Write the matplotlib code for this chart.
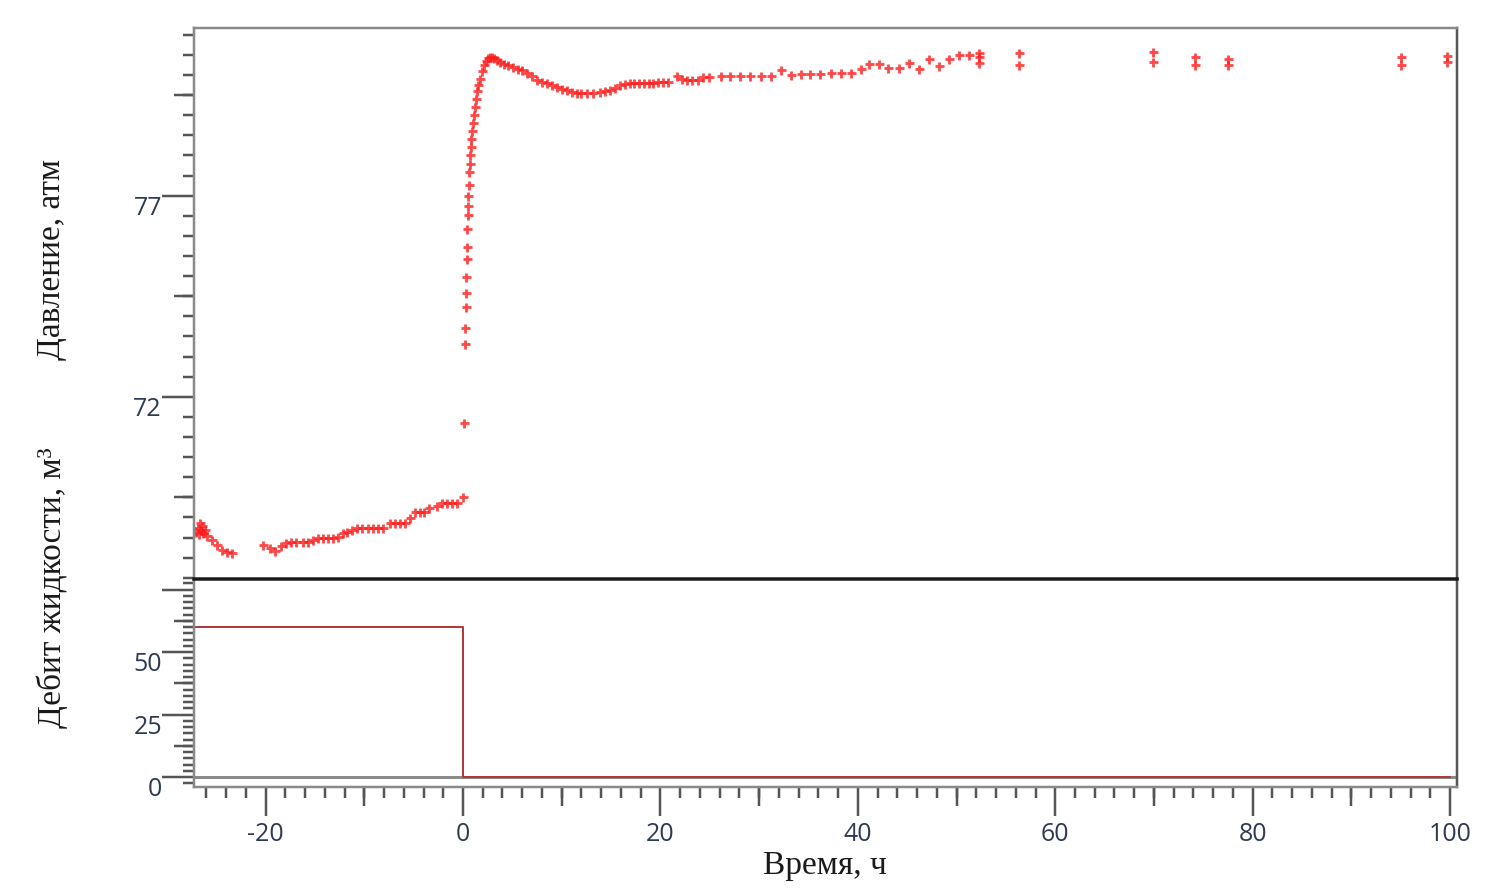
import numpy as np
import matplotlib
matplotlib.use("Agg")
import matplotlib.pyplot as plt

plt.rcParams["axes.unicode_minus"] = False

# pressure, atm (before the shut-in)
t_pre = [-27.0, -26.8, -26.7, -26.6, -26.5, -26.4, -26.3, -26.1, -25.9, -25.4, -24.9, -24.4, -23.9, -23.4,
         -20.3, -19.6, -19.0, -18.4, -17.9, -17.4, -16.9, -16.2, -15.7, -15.2, -14.7, -14.2, -13.7, -13.2,
         -12.7, -12.2, -11.7, -11.2, -10.7, -10.2, -9.6, -9.1, -8.6, -8.1, -7.4, -6.9, -6.4, -5.9, -5.4,
         -4.9, -4.4, -3.9, -3.4, -2.6, -2.1, -1.6, -1.1, -0.6, 0.0]
p_pre = [68.65, 68.75, 68.60, 68.85, 68.70, 68.80, 68.62, 68.68, 68.55, 68.44, 68.31, 68.19, 68.13, 68.11,
         68.31, 68.24, 68.16, 68.30, 68.36, 68.38, 68.38, 68.40, 68.40, 68.44, 68.48, 68.48, 68.48, 68.50,
         68.51, 68.61, 68.63, 68.68, 68.73, 68.73, 68.73, 68.73, 68.73, 68.73, 68.86, 68.86, 68.86, 68.86,
         68.98, 69.13, 69.13, 69.13, 69.23, 69.28, 69.36, 69.36, 69.36, 69.36, 69.51]

# pressure, atm (build-up)
t_post = [0.1, 0.2, 0.25, 0.3, 0.3, 0.35, 0.4, 0.4, 0.45, 0.5, 0.5, 0.55, 0.6, 0.65, 0.7, 0.75, 0.8,
          0.85, 0.9, 1.0, 1.1, 1.2, 1.3, 1.4, 1.5, 1.7, 1.9, 2.1, 2.3, 2.5, 2.7, 2.9, 3.1, 3.4, 3.8,
          4.2, 4.6, 5.1, 5.6, 6.0, 6.5, 7.0, 7.5, 8.0, 8.5, 9.0, 9.5, 10.0, 10.5, 11.0, 11.5, 12.0,
          12.6, 13.2, 13.9, 14.4, 14.9, 15.4, 15.9, 16.4, 16.9, 17.3, 17.8, 18.3, 18.8, 19.3, 19.8,
          20.3, 20.8, 21.7, 22.2, 22.7, 23.2, 23.8, 24.3, 24.9, 26.1, 27.1, 28.1, 29.1, 30.2, 31.2,
          32.2, 33.2, 34.2, 35.2, 36.2, 37.3, 38.3, 39.3, 40.3, 41.1, 42.1, 43.1, 44.2, 45.2, 46.2,
          47.2, 48.2, 49.2, 50.3, 51.3, 52.3, 52.3, 52.3, 56.3, 56.3, 69.9, 69.9, 74.2, 74.2,
          77.5, 77.5, 95.0, 95.0, 99.7, 99.7]
p_post = [71.35, 73.31, 73.71, 74.23, 74.58, 74.98, 75.43, 75.72, 76.17, 76.52, 76.74, 77.00, 77.27,
          77.59, 77.80, 78.00, 78.20, 78.40, 78.60, 78.80, 79.00, 79.20, 79.40, 79.60, 79.75, 79.90,
          80.10, 80.25, 80.35, 80.42, 80.45, 80.45, 80.42, 80.38, 80.32, 80.28, 80.24, 80.20, 80.15,
          80.12, 80.06, 79.97, 79.88, 79.83, 79.80, 79.75, 79.70, 79.66, 79.62, 79.58, 79.56, 79.55,
          79.56, 79.56, 79.58, 79.60, 79.63, 79.68, 79.75, 79.78, 79.80, 79.80, 79.80, 79.80, 79.81,
          79.81, 79.82, 79.82, 79.82, 79.98, 79.90, 79.88, 79.88, 79.88, 79.95, 79.95, 79.98, 79.98,
          79.98, 79.98, 79.98, 79.98, 80.13, 80.00, 80.03, 80.03, 80.03, 80.05, 80.05, 80.05, 80.15,
          80.27, 80.27, 80.18, 80.18, 80.30, 80.15, 80.40, 80.23, 80.40, 80.50, 80.50, 80.55, 80.45,
          80.30, 80.55, 80.25, 80.57, 80.32, 80.45, 80.25, 80.40, 80.25, 80.45, 80.25, 80.47, 80.32]

# liquid rate, m3
rate_t = [-27.3, 0.0, 100.0]
rate_q = [60.0, 0.0, 0.0]

tick_col = "#555555"
label_col = "#2e3a55"
serif = ["Liberation Serif", "DejaVu Serif"]
sans = ["Open Sans", "DejaVu Sans"]
px = 0.72  # points per pixel at dpi 100

fig = plt.figure(figsize=(14.87, 8.92), dpi=100)
left, width = 194 / 1487, (1457 - 194) / 1487
ax1 = fig.add_axes([left, 1 - 579 / 892, width, (579 - 28) / 892])
ax2 = fig.add_axes([left, 1 - 787 / 892, width, (787 - 579) / 892], sharex=ax1)
ax1.set_zorder(2)
ax1.patch.set_alpha(0)

ax1.plot(t_pre, p_pre, "+", color="#ff1a1a", ms=9 * px, mew=2.8 * px, alpha=0.8)
ax1.plot(t_post, p_post, "+", color="#ff1a1a", ms=9 * px, mew=2.8 * px, alpha=0.8)
ax1.set_ylim(67.47, 81.17)
ax1.set_xlim(-27.25, 100.7)

ax2.axhline(0, color="#8a8a8a", lw=3 * px, zorder=1)
ax2.plot(rate_t, rate_q, drawstyle="steps-post", color="#b23a3a", lw=2 * px, zorder=2)
ax2.set_ylim(-4.0, 79.3)

for ax in (ax1, ax2):
    for s in ax.spines.values():
        s.set_color("#8a8a8a")
        s.set_linewidth(2.5 * px)
    ax.spines["right"].set_color("#555555")
    ax.tick_params(colors=tick_col, width=2.5 * px, labelcolor=label_col, labelsize=18)

ax1.spines["bottom"].set_color("#1a1a1a")
ax1.spines["bottom"].set_linewidth(3.5 * px)
ax2.spines["top"].set_visible(False)

# top panel y ticks
ax1.set_yticks([72, 77])
ax1.set_yticks(np.arange(67.5, 81.5, 0.5), minor=True)
ax1.tick_params(axis="y", which="major", length=32 * px, pad=0)
ax1.tick_params(axis="y", which="minor", length=11 * px, width=2.5 * px, colors=tick_col)
ax1.tick_params(axis="x", which="both", bottom=False, labelbottom=False)
sec1 = ax1.secondary_yaxis("left")
sec1.set_yticks([69.5, 74.5, 79.5])
sec1.tick_params(length=20 * px, width=2.5 * px, colors=tick_col, labelleft=False)
sec1.spines["left"].set_visible(False)

# bottom panel y ticks
ax2.set_yticks([0, 25, 50, 75])
ax2.set_yticklabels(["0", "25", "50", ""])
ax2.set_yticks(np.arange(-2.5, 80, 2.5), minor=True)
ax2.tick_params(axis="y", which="major", length=32 * px, pad=0)
ax2.tick_params(axis="y", which="minor", length=11 * px, width=2.5 * px, colors=tick_col)
sec2 = ax2.secondary_yaxis("left")
sec2.set_yticks([12.5, 37.5, 62.5])
sec2.tick_params(length=20 * px, width=2.5 * px, colors=tick_col, labelleft=False)
sec2.spines["left"].set_visible(False)

# x ticks
ax2.set_xticks(np.arange(-20, 101, 20))
ax2.set_xticks(np.arange(-26, 101, 2), minor=True)
ax2.tick_params(axis="x", which="major", length=29 * px, pad=4)
ax2.tick_params(axis="x", which="minor", length=11 * px, width=2.5 * px, colors=tick_col)
sec3 = ax2.secondary_xaxis("bottom")
sec3.set_xticks(np.arange(-10, 100, 20))
sec3.tick_params(length=19 * px, width=2.5 * px, colors=tick_col, labelbottom=False)
sec3.spines["bottom"].set_visible(False)

for lab in ax2.get_xticklabels():
    lab.set_fontfamily(sans)
for ax in (ax1, ax2):
    for lab in ax.get_yticklabels():
        lab.set_fontfamily(sans)
        lab.set_verticalalignment("top")

fig.text(52 / 1487, 1 - 260 / 892, "Давление, атм", rotation=90, ha="center", va="center",
         fontsize=24, family=serif, color="#1a1a1a")
fig.text(52 / 1487, 1 - 588 / 892, "Дебит жидкости, м³", rotation=90, ha="center", va="center",
         fontsize=24, family=serif, color="#1a1a1a")
fig.text(825 / 1487, 1 - 866 / 892, "Время, ч", ha="center", va="center",
         fontsize=24, family=serif, color="#1a1a1a")

fig.savefig("out.png", dpi=100)
plt.close(fig)
